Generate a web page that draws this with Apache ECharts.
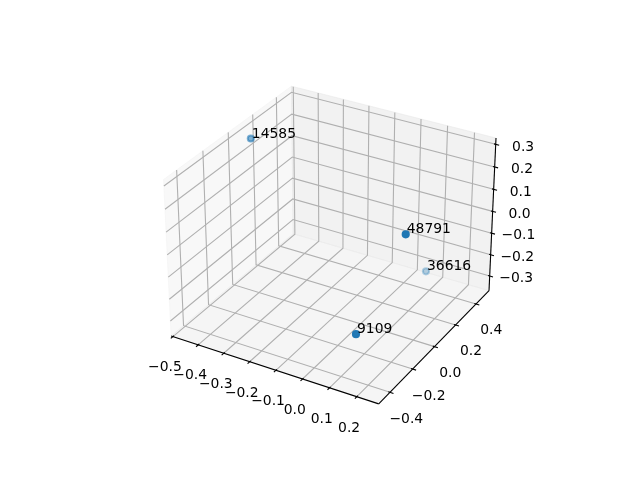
<!DOCTYPE html>
<html><head><meta charset="utf-8">
<script src="https://cdn.jsdelivr.net/npm/echarts@6/dist/echarts.min.js"></script>
<style>html,body{margin:0;padding:0;background:#fff}#c{width:640px;height:480px}</style>
</head><body><div id="c"></div>
<script>
// ---- data ----
const labels = ['14585', '48791', '36616', '9109'];
const xs = [-0.4578, 0.2290, 0.0594, 0.1674];
const ys = [0.0792, -0.1637, 0.4659, -0.4316];
const zs = [0.2835, 0.1909, -0.3253, -0.1373];
const xTicks = [-0.5, -0.4, -0.3, -0.2, -0.1, 0.0, 0.1, 0.2];
const yTicks = [-0.4, -0.2, 0.0, 0.2, 0.4];
const zTicks = [-0.3, -0.2, -0.1, 0.0, 0.1, 0.2, 0.3];
const xLim = [-0.4915, 0.2633];
const yLim = [-0.4764, 0.5107];
const zLim = [-0.3558, 0.3134];

// ---- 3D view (elev 30, azim -60, box aspect 4:4:3) ----
const F = 1.8294640721620434 / Math.sqrt(41);
const BOX = [4 * F, 4 * F, 3 * F];
const LIM = [xLim[0], xLim[1], yLim[0], yLim[1], zLim[0], zLim[1]];
function makeProj(lim) {
  const e = 30 * Math.PI / 180, a = -60 * Math.PI / 180;
  const w = [Math.cos(e) * Math.cos(a), Math.cos(e) * Math.sin(a), Math.sin(e)];
  let u = [-w[1], w[0], 0]; const nu = Math.hypot(u[0], u[1]); u = u.map(c => c / nu);
  const v = [w[1] * u[2] - w[2] * u[1], w[2] * u[0] - w[0] * u[2], w[0] * u[1] - w[1] * u[0]];
  return function (x, y, z) {
    const P = [(x - lim[0]) / (lim[1] - lim[0]) * BOX[0] - BOX[0] / 2,
               (y - lim[2]) / (lim[3] - lim[2]) * BOX[1] - BOX[1] / 2,
               (z - lim[4]) / (lim[5] - lim[4]) * BOX[2] - BOX[2] / 2];
    const pu = u[0] * P[0] + u[1] * P[1] + u[2] * P[2];
    const pv = v[0] * P[0] + v[1] * P[1] + v[2] * P[2];
    const pw = w[0] * P[0] + w[1] * P[1] + w[2] * P[2] - 10;
    return [pu / (-pw), pv / (-pw), 10 / pw];
  };
}
const prj = makeProj(LIM);
const B = [];
for (let i = 0; i < 3; i++) { const L = LIM[2 * i + 1] - LIM[2 * i]; B.push(LIM[2 * i] - L / 48, LIM[2 * i + 1] + L / 48); }
const D = [(LIM[1] - LIM[0]) / 12, (LIM[3] - LIM[2]) / 12, (LIM[5] - LIM[4]) / 12];
const LD = 11.5 * 48 / (2 * 72 * 3.696);
const fmt = v => (v < 0 ? '\u2212' : '') + Math.abs(v).toFixed(1);
const FONT = '13.9px "DejaVu Sans"';

function frame(params, api) {
  const P = (x, y, z) => { const s = prj(x, y, z); return api.coord([s[0], s[1]]); };
  const ch = [];
  const poly = (pts, c) => ch.push({ type: 'polygon', shape: { points: pts }, style: { fill: c, stroke: c, lineWidth: 1 } });
  poly([P(B[0], B[2], B[4]), P(B[0], B[3], B[4]), P(B[0], B[3], B[5]), P(B[0], B[2], B[5])], 'rgba(242,242,242,0.5)');
  poly([P(B[0], B[3], B[4]), P(B[1], B[3], B[4]), P(B[1], B[3], B[5]), P(B[0], B[3], B[5])], 'rgba(230,230,230,0.5)');
  poly([P(B[0], B[2], B[4]), P(B[1], B[2], B[4]), P(B[1], B[3], B[4]), P(B[0], B[3], B[4])], 'rgba(236,236,236,0.5)');
  const pl = (pts, c, w) => ch.push({ type: 'polyline', shape: { points: pts }, style: { stroke: c, lineWidth: w, fill: null } });
  xTicks.forEach(t => pl([P(t, B[2], B[4]), P(t, B[3], B[4]), P(t, B[3], B[5])], '#b0b0b0', 1.1));
  yTicks.forEach(t => pl([P(B[0], t, B[5]), P(B[0], t, B[4]), P(B[1], t, B[4])], '#b0b0b0', 1.1));
  zTicks.forEach(t => pl([P(B[1], B[3], t), P(B[0], B[3], t), P(B[0], B[2], t)], '#b0b0b0', 1.1));
  pl([P(B[0], B[2], B[4]), P(B[1], B[2], B[4])], '#000', 1.1);
  pl([P(B[1], B[3], B[4]), P(B[1], B[2], B[4])], '#000', 1.1);
  pl([P(B[1], B[3], B[4]), P(B[1], B[3], B[5])], '#000', 1.1);
  const txt = (p, s, dx, dy) => ch.push({ type: 'text', x: p[0] + dx, y: p[1] + dy,
    style: { text: s, fill: '#000', font: FONT, align: 'center', verticalAlign: 'top' } });
  xTicks.forEach(t => {
    pl([P(t, B[2] + 0.1 * D[1], B[4]), P(t, B[2] - 0.2 * D[1], B[4])], '#000', 1.1);
    txt(P(t, B[2] - LD * D[1], B[4] - LD * D[2]), fmt(t), 2.5, 2);
  });
  yTicks.forEach(t => {
    pl([P(B[1] - 0.1 * D[0], t, B[4]), P(B[1] + 0.2 * D[0], t, B[4])], '#000', 1.1);
    txt(P(B[1] + LD * D[0], t, B[4] - LD * D[2]), fmt(t), -1.5, 2);
  });
  zTicks.forEach(t => {
    pl([P(B[1] - 0.1 * D[0], B[3], t), P(B[1] + 0.2 * D[0], B[3], t)], '#000', 1.1);
    txt(P(B[1] + LD * D[0], B[3] + LD * D[1], t), fmt(t), 1, -1);
  });
  return { type: 'group', children: ch };
}

const proj2 = xs.map((x, k) => prj(x, ys[k], zs[k]));
const dmin = Math.min(...proj2.map(s => s[2])), dmax = Math.max(...proj2.map(s => s[2]));
const pts = proj2.map((s, k) => ({ value: [s[0], s[1]], name: labels[k],
  itemStyle: { opacity: 1 - 0.7 * (s[2] - dmin) / (dmax - dmin) } }));

function pointLabels(params, api) {
  const k = params.dataIndex;
  const p = api.coord([api.value(0), api.value(1)]);
  return { type: 'text', x: p[0] + 1, y: p[1] + 2.5,
    style: { text: labels[k], fill: '#000', font: FONT, align: 'left', verticalAlign: 'bottom' } };
}

const chart = echarts.init(document.getElementById('c'), null, { renderer: 'canvas' });
chart.setOption({
  animation: false,
  grid: { left: 143.2, top: 57.6, width: 369.6, height: 369.6 },
  xAxis: { type: 'value', min: -0.095, max: 0.09, show: false },
  yAxis: { type: 'value', min: -0.095, max: 0.09, show: false },
  series: [
    { type: 'custom', renderItem: frame, data: [[0, 0]], silent: true, clip: false, z: 1 },
    { type: 'scatter', data: pts, symbolSize: 6.2, z: 5, silent: true,
      itemStyle: { color: '#1f77b4', borderColor: '#1f77b4', borderWidth: 2 } },
    { type: 'custom', renderItem: pointLabels, data: pts.map(p => p.value), silent: true, clip: false, z: 6 }
  ]
});
</script></body></html>
